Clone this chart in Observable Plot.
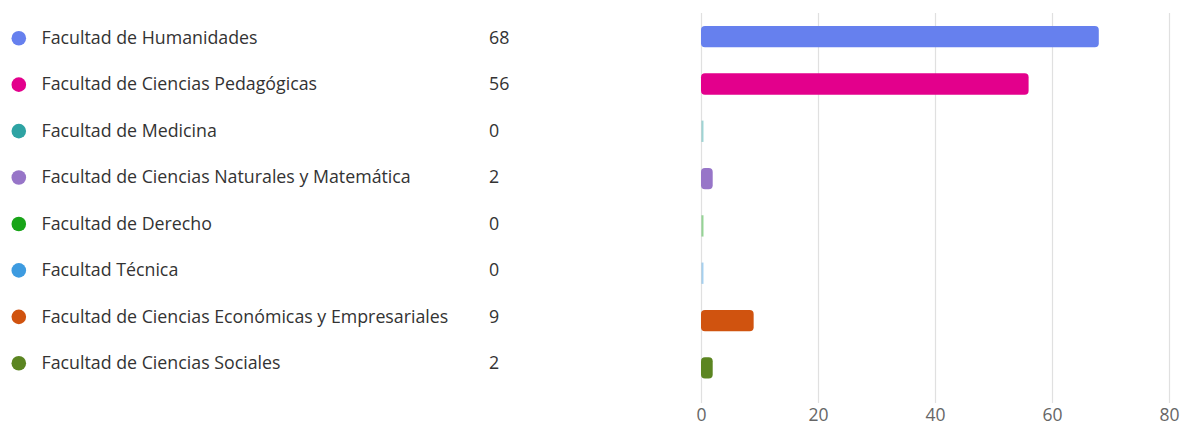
<!DOCTYPE html>
<html>
<head>
<meta charset="utf-8">
<script src="https://cdn.jsdelivr.net/npm/d3@7"></script>
<script src="https://cdn.jsdelivr.net/npm/@observablehq/plot@0.6"></script>
<style>
  html, body { margin: 0; padding: 0; background: #fff; }
  #chart { position: relative; width: 1182px; height: 427px; }
  #chart svg { display: block; position: absolute; top: 0; left: 0; }
</style>
</head>
<body>
<div id="chart"></div>
<script>
const categories = [
  "Facultad de Humanidades",
  "Facultad de Ciencias Pedagógicas",
  "Facultad de Medicina",
  "Facultad de Ciencias Naturales y Matemática",
  "Facultad de Derecho",
  "Facultad Técnica",
  "Facultad de Ciencias Económicas y Empresariales",
  "Facultad de Ciencias Sociales"
];
const values = [68, 56, 0, 2, 0, 0, 9, 2];
const colors = ["#6680EE", "#E3008C", "#2EA3A3", "#9775C8", "#18A418", "#3D9BE0", "#D0530F", "#5B8521"];
const xTicks = [0, 20, 40, 60, 80];

const data = categories.map((name, i) => ({name, value: values[i], color: colors[i]}));
const font = "'Open Sans', sans-serif";

// Bars chart (right side)
const bars = Plot.plot({
  width: 1182,
  height: 427,
  marginLeft: 701,
  marginRight: 13,
  marginTop: 13,
  marginBottom: 24,
  style: {fontFamily: font, fontSize: "17.5px", color: "#333", background: "transparent"},
  x: {domain: [0, 80], ticks: xTicks, label: null},
  y: {type: "band", domain: categories, padding: 0, round: false, insetTop: 0, insetBottom: 11.5, axis: null},
  marks: [
    Plot.gridX(xTicks, {stroke: "#e0e0e0", strokeOpacity: 1, strokeWidth: 1.2}),
    Plot.axisX({ticks: xTicks, tickSize: 0, tickPadding: 5, fill: "#666", fontSize: 17.5, label: null}),
    Plot.barX(data, {x1: 0, x2: "value", y: "name", fill: "color", insetTop: 13, insetBottom: 13, rx: 4}),
    Plot.tickX(data.filter(d => d.value === 0), {x: "value", y: "name", stroke: "color", strokeOpacity: 0.45, strokeWidth: 2, insetTop: 13, insetBottom: 13, dx: 1})
  ]
});

// Legend (left side)
const legend = Plot.plot({
  width: 700,
  height: 427,
  marginLeft: 0,
  marginRight: 0,
  marginTop: 14.5,
  marginBottom: 41,
  style: {fontFamily: font, fontSize: "17.8px", color: "#333", background: "transparent"},
  y: {type: "band", domain: categories, padding: 0, round: false, axis: null},
  marks: [
    Plot.dot(data, {y: "name", frameAnchor: "left", dx: 18.3, r: 7.3, fill: "color", stroke: null}),
    Plot.text(data, {y: "name", text: "name", frameAnchor: "left", dx: 41, dy: 0, textAnchor: "start", fill: "#333", fontSize: 17.8}),
    Plot.text(data, {y: "name", text: d => String(d.value), frameAnchor: "left", dx: 488.5, dy: 0, textAnchor: "start", fill: "#333", fontSize: 17.8})
  ]
});

const root = document.getElementById("chart");
root.appendChild(bars);
root.appendChild(legend);
</script>
</body>
</html>
